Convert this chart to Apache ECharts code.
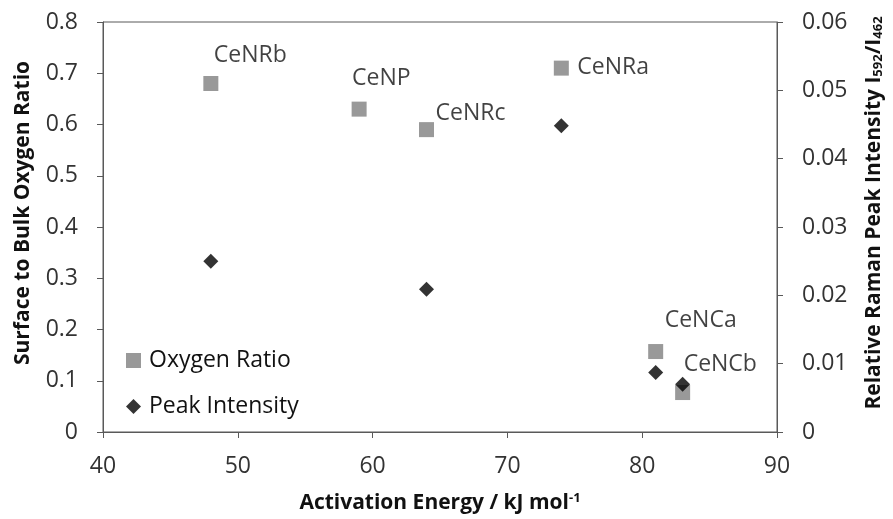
<!DOCTYPE html>
<html>
<head>
<meta charset="utf-8">
<script src="https://cdn.jsdelivr.net/npm/echarts@6/dist/echarts.min.js"></script>
<style>
  html, body { margin: 0; padding: 0; background: #fff; }
  #chart { width: 893px; height: 519px; }
</style>
</head>
<body>
<div id="chart"></div>
<script>
// data
const sampleNames = ['CeNRb', 'CeNP', 'CeNRc', 'CeNRa', 'CeNCa', 'CeNCb'];
const activationEnergy = [48, 59, 64, 74, 81, 83];
const oxygenRatio = [0.68, 0.63, 0.59, 0.71, 0.157, 0.077];
// peak intensity only measured for some samples (no CeNP)
const peakEnergy = [48, 64, 74, 81, 83];
const peakIntensity = [0.025, 0.0209, 0.0448, 0.0087, 0.007];

// where each name label sits relative to its square (px)
const labelOffsets = [[3, -28], [-7, -31], [9, -16], [16, -1], [9, -31], [1, -28]];

const FONT = '"Open Sans", sans-serif';
const TICK_COLOR = '#333';
const TEXT_COLOR = '#111';
const LINE_COLOR = '#595959';

let chart = echarts.init(document.getElementById('chart'));

let oxyData = activationEnergy.map(function (x, i) {
    return {
        name: sampleNames[i],
        value: [x, oxygenRatio[i]],
        label: { offset: labelOffsets[i] }
    };
});
let peakData = peakEnergy.map(function (x, i) { return [x, peakIntensity[i]]; });

let axisLine = { show: true, lineStyle: { color: LINE_COLOR, width: 1 } };
let axisTick = { show: true, inside: false, length: 6, lineStyle: { color: LINE_COLOR } };
let tickLabel = { fontFamily: FONT, fontSize: 23, color: TICK_COLOR };

let option = {
    animation: false,
    backgroundColor: '#fff',
    textStyle: { fontFamily: FONT },
    grid: {
        left: 103, right: 111, top: 22, bottom: 87,
        show: true, borderColor: LINE_COLOR, borderWidth: 1
    },
    legend: {
        orient: 'vertical',
        left: 121, top: 344,
        itemWidth: 15, itemHeight: 15,
        itemGap: 23,
        textStyle: { fontFamily: FONT, fontSize: 23, color: TEXT_COLOR, padding: [0, 0, 0, 3] },
        data: [
            { name: 'Oxygen Ratio', icon: 'rect' },
            { name: 'Peak Intensity', icon: 'diamond' }
        ]
    },
    xAxis: {
        type: 'value',
        min: 40, max: 90, interval: 10,
        name: 'Activation Energy / kJ mol{sup|-1}',
        nameLocation: 'middle',
        nameGap: 60,
        nameTextStyle: {
            fontFamily: FONT, fontSize: 21, fontWeight: 'bold', color: TEXT_COLOR,
            rich: {
                sup: { fontFamily: FONT, fontSize: 13, fontWeight: 'bold', color: TEXT_COLOR, verticalAlign: 'top', padding: [0, 0, 10, 0] }
            }
        },
        axisLine: axisLine,
        axisTick: axisTick,
        splitLine: { show: false },
        axisLabel: Object.assign({ margin: 23 }, tickLabel)
    },
    yAxis: [
        {
            type: 'value',
            position: 'left',
            min: 0, max: 0.8, interval: 0.1,
            name: 'Surface to Bulk Oxygen Ratio',
            nameLocation: 'middle',
            nameGap: 69,
            nameRotate: 90,
            // left padding nudges the title a bit above the plot middle, as in the original
            nameTextStyle: { fontFamily: FONT, fontSize: 21, fontWeight: 'bold', color: TEXT_COLOR, padding: [0, 0, 0, 28] },
            axisLine: axisLine,
            axisTick: axisTick,
            splitLine: { show: false },
            axisLabel: Object.assign({ margin: 25 }, tickLabel)
        },
        {
            type: 'value',
            position: 'right',
            min: 0, max: 0.06, interval: 0.01,
            name: 'Relative Raman Peak Intensity I{sub|592}/I{sub|462}',
            nameLocation: 'middle',
            nameGap: 87,
            nameRotate: 90,
            nameTextStyle: {
                fontFamily: FONT, fontSize: 21, fontWeight: 'bold', color: TEXT_COLOR,
                padding: [0, 0, 0, 28],
                rich: {
                    sub: { fontFamily: FONT, fontSize: 13, fontWeight: 'bold', color: TEXT_COLOR, verticalAlign: 'bottom', padding: [8, 0, 0, 0] }
                }
            },
            axisLine: axisLine,
            axisTick: axisTick,
            splitLine: { show: false },
            axisLabel: Object.assign({ margin: 25 }, tickLabel)
        }
    ],
    series: [
        {
            name: 'Oxygen Ratio',
            type: 'scatter',
            yAxisIndex: 0,
            symbol: 'rect',
            symbolSize: 15,
            itemStyle: { color: '#808080' },
            label: {
                show: true,
                position: 'inside',
                align: 'left',
                verticalAlign: 'middle',
                formatter: '{b}',
                fontFamily: FONT,
                fontSize: 23,
                color: TEXT_COLOR
            },
            data: oxyData
        },
        {
            name: 'Peak Intensity',
            type: 'scatter',
            yAxisIndex: 1,
            symbol: 'diamond',
            symbolSize: 15,
            itemStyle: { color: '#000' },
            data: peakData
        }
    ]
};

chart.setOption(option);
</script>
</body>
</html>
